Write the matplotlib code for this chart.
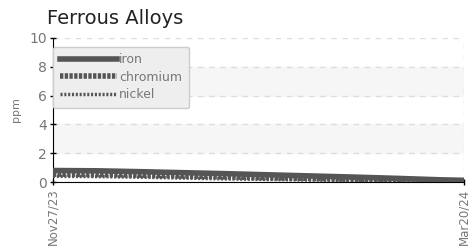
import matplotlib
matplotlib.use('Agg')
import matplotlib.pyplot as plt
import matplotlib.dates as mdates
import pandas as pd

# values
dates = pd.to_datetime(['2023-11-27', '2023-12-09', '2023-12-21', '2024-01-02', '2024-01-14',
                        '2024-01-26', '2024-02-07', '2024-02-19', '2024-03-02', '2024-03-14',
                        '2024-03-20'])
iron = [0.8, 0.78, 0.72, 0.65, 0.58, 0.5, 0.42, 0.34, 0.25, 0.15, 0.12]
chromium = [0.55, 0.52, 0.48, 0.42, 0.36, 0.3, 0.25, 0.2, 0.14, 0.1, 0.08]
nickel = [0.4, 0.38, 0.34, 0.28, 0.22, 0.18, 0.14, 0.1, 0.07, 0.04, 0.03]
y_ticks = [0, 2, 4, 6, 8, 10]

plt.rcParams['font.family'] = ['DejaVu Sans']

fig = plt.figure(figsize=(4.69, 2.48), dpi=100)
ax = fig.add_axes([0.113, 0.266, 0.876, 0.581])

# alternating bands
for lo in (2, 6):
    ax.axhspan(lo, lo + 2, color='#f6f6f6', zorder=0)

ax.plot(dates, iron, color='#555555', lw=4, label='iron', zorder=3)
ax.plot(dates, chromium, color='#555555', lw=4, ls=(0, (0.6, 0.25)), label='chromium', zorder=4)
ax.plot(dates, nickel, color='#555555', lw=2.5, ls=(0, (0.6, 0.5)), label='nickel', zorder=5)

ax.set_xlim(dates[0], dates[-1])
ax.set_ylim(0, 10)
ax.set_yticks(y_ticks)
ax.set_xticks([dates[0], dates[-1]])
ax.xaxis.set_major_formatter(mdates.DateFormatter('%b%d/%y'))
for lab in ax.get_xticklabels():
    lab.set_rotation(90)

ax.grid(axis='y', color='#dddddd', ls=(0, (4, 4)), lw=1)
ax.grid(axis='x', color='#dddddd', ls=(0, (4, 4)), lw=1)
ax.set_axisbelow(True)

for side in ('top', 'right'):
    ax.spines[side].set_visible(False)
ax.spines['left'].set_color('black')
ax.spines['bottom'].set_color('black')
ax.tick_params(direction='inout', length=5, width=1, colors='black', labelcolor='#777777')
ax.tick_params(axis='y', labelsize=10, pad=2)
ax.tick_params(axis='x', labelsize=8.5, pad=2)

ax.set_ylabel('ppm', color='#777777', fontsize=8, labelpad=6)
fig.text(0.1, 0.905, 'Ferrous Alloys', fontsize=14, color='#222222')

leg = ax.legend(loc='upper left', bbox_to_anchor=(0.0, 0.94), frameon=True, fancybox=True,
                handlelength=4.6, handletextpad=0.15, labelspacing=0.35, fontsize=9,
                borderpad=0.55, borderaxespad=0.0)
leg.get_frame().set_facecolor('#eeeeee')
leg.get_frame().set_edgecolor('#cccccc')
leg.get_frame().set_alpha(1)
for t in leg.get_texts():
    t.set_color('#777777')

fig.savefig('out.png', dpi=100)
